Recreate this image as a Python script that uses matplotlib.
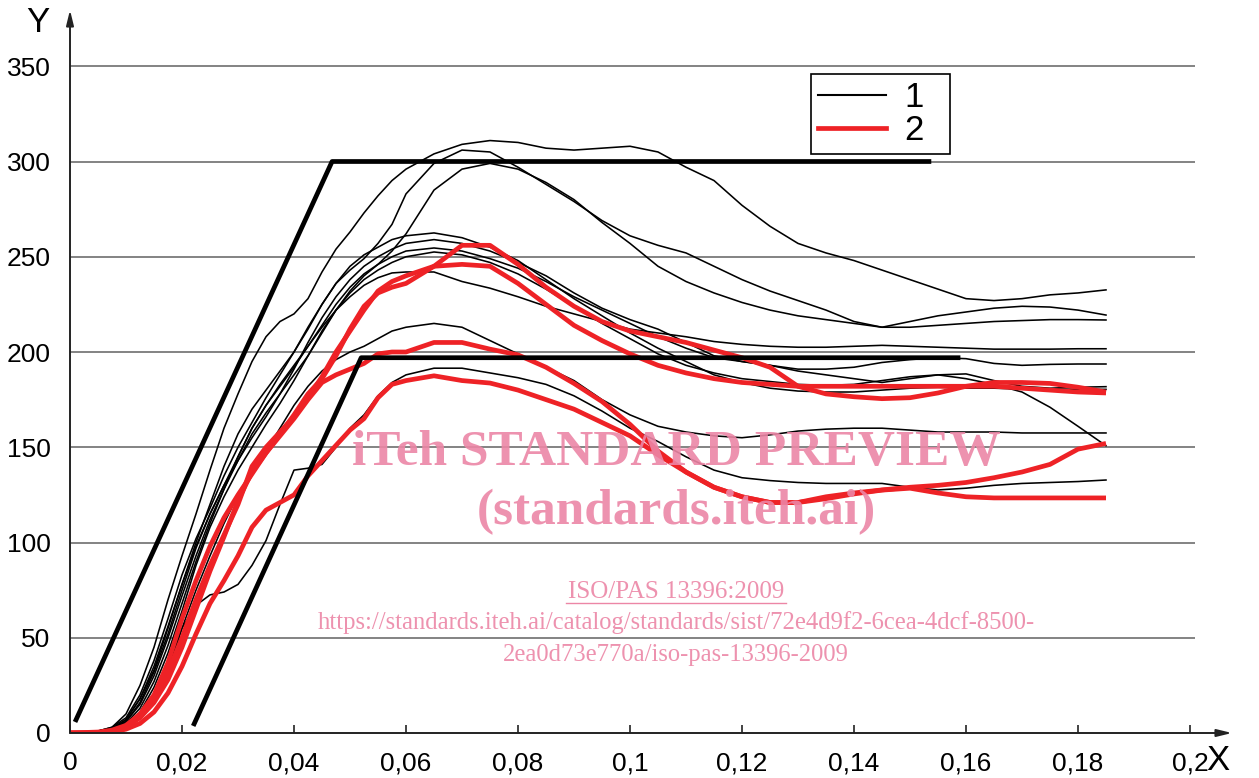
import matplotlib
matplotlib.use("Agg")
import matplotlib.pyplot as plt

# ---------------- data ----------------
X = [0, 0.005, 0.0075, 0.01, 0.0125, 0.015, 0.0175, 0.02, 0.0225, 0.025, 0.0275, 0.03,
     0.0325, 0.035, 0.0375, 0.04, 0.0425, 0.045, 0.0475, 0.05, 0.0525, 0.055, 0.0575, 0.06,
     0.065, 0.07, 0.075, 0.08, 0.085, 0.09, 0.095, 0.1, 0.105, 0.11, 0.115, 0.12, 0.125,
     0.13, 0.135, 0.14, 0.145, 0.15, 0.155, 0.16, 0.165, 0.17, 0.175, 0.18, 0.185]

# series 1 (black thin curves)
a1 = [0, 1, 3, 10, 25, 45, 70, 93, 115, 138, 160, 178, 195, 208, 216, 220, 228, 242, 254, 263,
      273, 282, 290, 296, 304, 309, 311, 310, 307, 306, 307, 308, 305, 297, 290, 277, 266, 257,
      252, 248, 243, 238, 233, 228, 227, 228, 230, 231, 232.6]
a2 = [0, 1, 2, 7, 18, 33, 55, 78, 100, 120, 140, 157, 170, 180, 190, 200, 212, 225, 236, 243,
      249, 257, 267, 283, 299, 306, 305, 297, 288, 279, 269, 261, 256, 252, 245, 238, 232, 227,
      222, 216, 213, 216, 219, 221, 223, 224, 223.6, 222, 219.4]
a3 = [0, 1, 2, 6, 15, 30, 50, 72, 93, 112, 128, 143, 157, 168, 178, 188, 198, 210, 222, 232,
      240, 246, 253, 262, 285, 296, 299, 296, 289, 280, 268, 257, 245, 237, 231, 226, 222, 219,
      217, 215, 213, 213, 214, 215, 216, 216.5, 217, 217, 216.8]
b4 = [0, 1, 3, 8, 20, 38, 60, 83, 102, 118, 135, 150, 163, 176, 188, 200, 213, 225, 236, 245,
      251, 255, 259, 261, 262.5, 260, 255, 248, 238, 228, 219, 210, 202, 195, 188, 184, 181,
      179.5, 179, 179, 180, 181, 181.5, 181, 181, 180.5, 180.5, 180.4, 180.4]
b5 = [0, 1, 2, 6, 16, 32, 52, 75, 97, 115, 130, 143, 155, 166, 178, 191, 205, 218, 229, 238,
      245, 250, 254, 257, 259, 257, 253, 247, 240, 231, 223, 217, 212, 205, 198, 195, 193, 191,
      191, 192, 194.5, 196, 197, 196.5, 194, 193, 193.5, 193.7, 193.7]
b6 = [0, 0.5, 2, 5, 13, 27, 46, 68, 90, 110, 128, 145, 160, 172, 182, 192, 203, 214, 225, 234,
      241, 246, 250, 253, 254.6, 253, 249, 244, 237, 229, 222, 215, 208, 202, 197, 195, 193, 190,
      188, 186, 184, 186, 188, 188.5, 185, 182, 181, 181.5, 181.8]
b7 = [0, 0.5, 1.5, 4, 11, 24, 42, 64, 88, 108, 124, 138, 150, 162, 173, 185, 198, 211, 222, 231,
      238, 243, 247, 250, 252.5, 251, 247, 241, 233, 224, 215, 207, 199, 193, 189, 186, 184.5,
      183, 182.5, 183, 185, 187, 188, 186, 183, 179, 171, 161, 150.8]
b8 = [0, 1, 2.5, 7, 18, 35, 56, 78, 98, 115, 130, 145, 160, 172, 183, 193, 203, 213, 222, 229,
      235, 239, 241.5, 242, 242, 237, 233.5, 229, 224, 220, 216, 212, 210, 208, 205.5, 204, 203,
      202.5, 202.5, 203, 203.5, 203, 202.5, 202, 201.5, 201.5, 201.5, 201.7, 201.7]
b9 = [0, 0.5, 1.5, 4, 10, 20, 35, 55, 75, 93, 110, 125, 137, 148, 160, 172, 182, 190, 196, 200,
      203, 207, 211, 213, 215, 213, 206, 199, 192, 185, 175, 167, 161, 158, 156, 155, 156.5,
      158.5, 159.5, 160, 160, 159, 158, 158, 158, 157.5, 157.5, 157.5, 157.5]
b10 = [0, 0, 1, 3, 8, 17, 32, 55, 67, 72.5, 74, 78, 88, 101, 120, 138, 139, 141, 150, 160,
       167, 177, 184, 188, 191.5, 191.5, 189, 186.5, 183, 177, 169, 160, 153, 145, 138, 134,
       132.5, 131.5, 131, 131, 131, 129, 127.6, 128.5, 130, 131, 131.5, 132, 132.8]
series1 = [a1, a2, a3, b4, b5, b6, b7, b8, b9, b10]

# series 2 (red thick curves)
r1 = [0, 0, 1, 3, 8, 16, 28, 45, 65, 85, 103, 122, 137, 147, 157, 167, 178, 186, 198, 212,
      224, 231, 234, 236, 245, 256, 256, 246, 234, 224, 216, 211, 208, 205, 201, 197, 192, 182,
      178, 176.5, 175.5, 176, 178.5, 182, 184, 184, 183.5, 181.5, 179]
r2 = [0, 0, 1, 3, 9, 18, 32, 50, 70, 88, 104, 120, 140, 150, 158, 166, 176, 187, 200, 211,
      222, 232, 237, 240, 245, 246, 245, 236, 225, 214, 206, 199, 193, 189, 186, 184, 183, 182,
      182, 182, 182, 182, 182, 182, 182, 181, 180, 179, 178.5]
r3 = [0, 0.5, 1.5, 4, 10, 20, 37, 60, 80, 98, 113, 125, 136, 147, 156, 165, 175, 184, 188, 191,
      194, 199, 200, 200, 205, 205, 201.5, 198.5, 192, 183.5, 174, 162, 148, 137, 129, 124, 121,
      121, 124, 126, 127.6, 129, 130, 131.5, 134, 137, 141, 149, 152]
r4 = [0, 0, 0.5, 2, 5, 11, 21, 35, 52, 68, 80, 93, 108, 117, 121, 125, 135, 143, 151, 159,
      165, 176, 183, 185, 187.5, 185, 183.7, 180, 175, 170, 163, 156, 146, 137, 129, 124, 121,
      121, 123, 125.5, 127.5, 128.5, 126, 124, 123.4, 123.4, 123.4, 123.4, 123.4]
series2 = [r1, r2, r3, r4]

# corridor limits (thick black)
upper_x = [0.0009, 0.0468, 0.1538]
upper_y = [5.8, 300, 300]
lower_x = [0.022, 0.052, 0.159]
lower_y = [3.7, 197, 197]

grid_y = [50, 100, 150, 200, 250, 300, 350]
xticks = [0, 0.02, 0.04, 0.06, 0.08, 0.1, 0.12, 0.14, 0.16, 0.18, 0.2]
xtick_labels = ["0", "0,02", "0,04", "0,06", "0,08", "0,1", "0,12", "0,14", "0,16", "0,18", "0,2"]
yticks = [0, 50, 100, 150, 200, 250, 300, 350]
legend_labels = ["1", "2"]

RED = "#ee2226"
PINK = "#ec86a6"

# ---------------- figure ----------------
W, H = 1259, 778
fig = plt.figure(figsize=(W / 100, H / 100), dpi=100)
plt.rcParams["font.family"] = ["Liberation Sans", "DejaVu Sans"]

x0_px, y0_px = 70, 733
px_per_x = 5600.0
px_per_y = 1.905
xmax = (1232 - x0_px) / px_per_x
ymax = (y0_px - 10) / px_per_y
ax = fig.add_axes([x0_px / W, (H - y0_px) / H, (1232 - x0_px) / W, (y0_px - 10) / H])
ax.set_xlim(0, xmax)
ax.set_ylim(0, ymax)

for s in ["top", "right", "left", "bottom"]:
    ax.spines[s].set_visible(False)

# grid lines
ax.hlines(grid_y, 0, 0.2009, colors="#7a7a7a", linewidth=1.3, zorder=1)

# axes with arrows
ax.annotate("", xy=(xmax, 0), xytext=(0, 0),
            arrowprops=dict(arrowstyle="-|>,head_length=0.9,head_width=0.22",
                            color="#222222", lw=1.4, shrinkA=0, shrinkB=0),
            annotation_clip=False, zorder=5)
ax.annotate("", xy=(0, ymax), xytext=(0, 0),
            arrowprops=dict(arrowstyle="-|>,head_length=0.9,head_width=0.22",
                            color="#222222", lw=1.4, shrinkA=0, shrinkB=0),
            annotation_clip=False, zorder=5)

for ys in series1:
    ax.plot(X, ys, color="black", linewidth=1.15, zorder=3, solid_joinstyle="round")
for ys in series2:
    ax.plot(X, ys, color=RED, linewidth=3.4, zorder=4, solid_joinstyle="round",
            solid_capstyle="butt")

ax.plot(upper_x, upper_y, color="black", linewidth=3.4, zorder=6, solid_capstyle="butt")
ax.plot(lower_x, lower_y, color="black", linewidth=3.4, zorder=6, solid_capstyle="butt")

# ticks
ax.set_xticks(xticks)
ax.set_xticklabels(xtick_labels)
ax.set_yticks(yticks)
ax.tick_params(axis="x", direction="in", length=6, width=1.2, color="#222222",
               labelsize=19, pad=13)
ax.tick_params(axis="y", length=0, labelsize=19, pad=14)

# axis letters
fig.text(38 / W, 1 - 22 / H, "Y", fontsize=25, ha="center", va="center")
fig.text(1218 / W, 1 - 760 / H, "X", fontsize=25, ha="center", va="center")

# legend
h1, = ax.plot([], [], color="black", linewidth=1.5)
h2, = ax.plot([], [], color=RED, linewidth=3.4)
leg = ax.legend([h1, h2], [lab + "  " for lab in legend_labels], loc="upper left",
                bbox_to_anchor=(811 / W, 1 - 74 / H), bbox_transform=fig.transFigure,
                fontsize=25, frameon=True, fancybox=False, framealpha=1,
                edgecolor="black", handlelength=1.95, handletextpad=0.55,
                labelspacing=0.0, borderpad=0.2, borderaxespad=0)
leg.get_frame().set_linewidth(1.2)
leg.set_zorder(10)

# watermark
wm = dict(color=PINK, ha="center", va="center", family=["Liberation Serif", "DejaVu Serif"],
          zorder=8, alpha=0.9)
fig.text(676 / W, 1 - 453 / H, "iTeh STANDARD PREVIEW", fontsize=37, weight="bold", **wm)
fig.text(676 / W, 1 - 512 / H, "(standards.iteh.ai)", fontsize=37, weight="bold", **wm)
fig.text(676 / W, 1 - 592 / H, "ISO/PAS 13396:2009", fontsize=18, **wm)
fig.text(676 / W, 1 - 623 / H,
         "https://standards.iteh.ai/catalog/standards/sist/72e4d9f2-6cea-4dcf-8500-",
         fontsize=17.7, **wm)
fig.text(676 / W, 1 - 655 / H, "2ea0d73e770a/iso-pas-13396-2009", fontsize=17.7, **wm)
# underline for the ISO reference
ax.plot([(566 - x0_px) / px_per_x, (786 - x0_px) / px_per_x],
        [(y0_px - 603) / px_per_y] * 2, color=PINK, linewidth=1.0, zorder=8)

fig.savefig("out.png", dpi=100)
